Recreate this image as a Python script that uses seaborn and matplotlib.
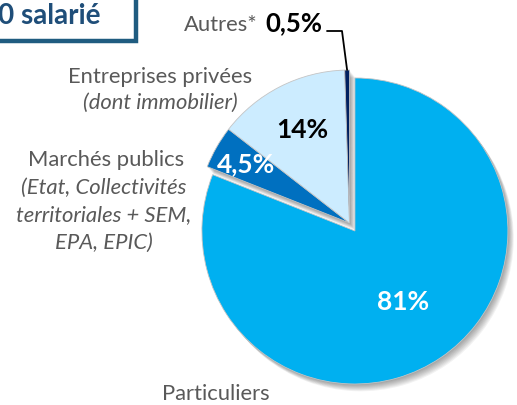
"""
Répartition du chiffre d'affaires par type de clientèle (pie chart)
"""

import numpy as np
import matplotlib
matplotlib.use("Agg")
import matplotlib.pyplot as plt
import seaborn as sns
from matplotlib.patches import Rectangle, Wedge

# Data
segments = ["Particuliers", "Marchés publics", "Entreprises privées", "Autres*"]
shares = [81, 4.5, 14, 0.5]
share_labels = ["81%", "4,5%", "14%", "0,5%"]

# Style
sns.set_theme(style="white")
plt.rcParams["font.family"] = ["Lato", "DejaVu Sans"]

colors = ["#00B0F0", "#0070C0", "#CCECFF", "#002060"]
label_colors = ["white", "white", "black", "black"]
label_radius = [0.56, 0.78, 0.68, None]
explode = [0.063, 0, 0, 0]
GRAY = "#595959"
FS = 15.8

W, H = 517, 405
fig = plt.figure(figsize=(W / 100, H / 100), dpi=100)


def fig_xy(x, y):
    """pixel position (from top-left) -> figure fraction"""
    return x / W, 1 - y / H


# pie axes: base centre (349.5, 223) px, radius 153 px
cx, cy, r_px = 349.5, 223, 153
lim = 1.15
side = 2 * lim * r_px
ax = fig.add_axes([(cx - side / 2) / W, (H - cy - side / 2) / H, side / W, side / H])

wedges, _ = ax.pie(shares, colors=colors, startangle=90, counterclock=False,
                   explode=explode, radius=1,
                   wedgeprops=dict(edgecolor="#c4c4c4", linewidth=0.6, zorder=3))
ax.set_xlim(-lim, lim)
ax.set_ylim(-lim, lim)
ax.set_aspect("equal")
ax.axis("off")

# soft shadow behind the slices
for w in wedges:
    for k in range(1, 9):
        off = 0.006 * k
        sh = Wedge((w.center[0] + off * 0.8, w.center[1] - off), w.r,
                   w.theta1, w.theta2, facecolor="black", edgecolor="none",
                   alpha=0.05, zorder=1)
        ax.add_patch(sh)

# percentage labels inside slices
for w, txt, col, rr in zip(wedges, share_labels, label_colors, label_radius):
    if rr is None:
        continue
    mid = np.deg2rad((w.theta1 + w.theta2) / 2)
    x = w.center[0] + rr * np.cos(mid)
    y = w.center[1] + rr * np.sin(mid)
    ax.text(x, y, txt, ha="center", va="center", color=col,
            fontsize=19, fontweight="bold", zorder=5)

# Autres* : outside label with leader line
w_aut = wedges[3]
mid = np.deg2rad((w_aut.theta1 + w_aut.theta2) / 2)
tip = (w_aut.center[0] + np.cos(mid), w_aut.center[1] + np.sin(mid))
elbow = ((342 - cx) / r_px, (cy - 31) / r_px)
start = ((327 - cx) / r_px, (cy - 31) / r_px)
ax.plot([start[0], elbow[0], tip[0]], [start[1], elbow[1], tip[1]],
        color="black", lw=1.3, zorder=6, clip_on=False)
fig.text(*fig_xy(258, 31), "Autres*", ha="right", va="baseline",
         color=GRAY, fontsize=FS)
fig.text(*fig_xy(265, 31), share_labels[3], ha="left", va="baseline",
         color="black", fontsize=18.5, fontweight="bold")

# category labels
fig.text(*fig_xy(160, 77), "Entreprises privées", ha="center", va="center",
         color=GRAY, fontsize=FS)
fig.text(*fig_xy(160, 103), "(dont immobilier)", ha="center", va="center",
         color=GRAY, fontsize=FS, style="italic")

fig.text(*fig_xy(106, 160), "Marchés publics", ha="center", va="center",
         color=GRAY, fontsize=FS)
for i, line in enumerate(["(Etat, Collectivités", "territoriales + SEM,", "EPA, EPIC)"]):
    fig.text(*fig_xy(104, 188 + 27.5 * i), line, ha="center", va="center",
             color=GRAY, fontsize=FS, style="italic")

fig.text(*fig_xy(216, 394), "Particuliers", ha="center", va="center",
         color=GRAY, fontsize=FS)

# boxed title fragment (top-left, cropped)
box_x0, box_y0 = fig_xy(-10, 41)
box_x1, box_y1 = fig_xy(136, -10)
fig.patches.append(Rectangle((box_x0, box_y0), box_x1 - box_x0, box_y1 - box_y0,
                             transform=fig.transFigure, fill=False,
                             edgecolor="#1F5C80", linewidth=3.2))
fig.text(*fig_xy(101, 24), "0 salarié", ha="right", va="baseline",
         color="#1F4E79", fontsize=20, fontweight="bold")

fig.savefig("out.png", dpi=100, facecolor="white")
plt.close(fig)
